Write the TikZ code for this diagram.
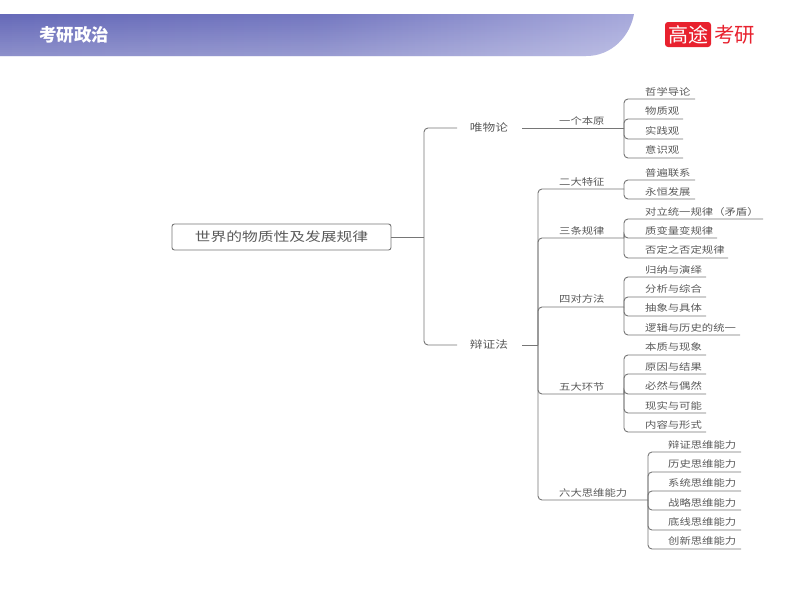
\documentclass[tikz,border=0pt]{standalone}
\usepackage{fontspec}
\newfontfamily\cjk[FakeStretch=1.22]{Noto Sans CJK SC}
\newfontfamily\cjkroot[FakeStretch=1.25]{Noto Sans CJK SC}
\newfontfamily\cjkhead{Noto Sans CJK SC}
\definecolor{conn}{HTML}{767676}
\definecolor{txt}{HTML}{5A5A5A}
\definecolor{logored}{HTML}{E8212E}
\definecolor{bandL}{HTML}{666AB9}
\definecolor{bandR}{HTML}{A6A8DB}
\tikzset{
  x=1pt,y=-1pt,
  connector/.style={draw=conn,line width=0.9pt,rounded corners=4pt},
  label/.style={font=\cjk\fontsize{9.3}{11}\selectfont,text=txt,inner sep=0pt},
  toplabel/.style={label,font=\cjk\fontsize{10.4}{12}\selectfont},
  leaflabel/.style={label,anchor=west},
  rootbox/.style={draw=conn,line width=0.9pt,rounded corners=2.5pt,minimum width=219pt,minimum height=26pt,inner sep=0pt,text=txt,font=\cjkroot\fontsize{12.6}{14}\selectfont},
}
% #1 name, #2 hub, #3 text x, #4 text y, #5 line y, #6 line end x, #7 text
\newcommand{\leafitem}[7]{%
  \node[leaflabel] (#1) at (#3,#4) {#7};
  \coordinate (#1end) at (#6,#5);
  \draw[connector] (#2) |- (#1end);
}
\begin{document}
\begin{tikzpicture}
\useasboundingbox (0,0) rectangle (800,600);
\fill[white] (0,0) rectangle (800,600);
% header band
\begin{scope}
  \clip (0,14) -- (634,14) .. controls (630,36) and (612,56) .. (586,56) -- (0,56) -- cycle;
  \shade[left color=bandL,right color=bandR,middle color=bandL!78!bandR] (0,14) rectangle (634,56);
  \foreach \i in {0,...,20} {
    \fill[white,opacity=0.0125*\i] (0,14+2*\i) rectangle (634,16+2*\i);
  }
\end{scope}
\node[font=\cjkhead\bfseries\fontsize{17.5}{19}\selectfont,text=white,inner sep=0pt] (head) at (74,35) {考研政治};
% logo
\node[fill=logored,rounded corners=3pt,minimum width=46pt,minimum height=25pt,inner sep=0pt,
  text=white,font=\cjkhead\fontsize{20}{22}\selectfont] (logoa) at (688,34.5) {高途};
\node[text=logored,inner sep=0pt,font=\cjkhead\fontsize{20.5}{22}\selectfont,anchor=west] (logob) at (714,34.5) {考研};
% root
\node[rootbox] (root) at (281.5,237) {世界的物质性及发展规律};
% level 1
\coordinate (hubA) at (424,237);
\node[toplabel] (wei) at (489,128) {唯物论};
\node[toplabel] (bian) at (489,344.5) {辩证法};
\draw[connector] (root.east) -- (hubA);
\draw[connector] (hubA) |- (457,128);
\draw[connector] (hubA) |- (457,345);
% level 2
\coordinate (hubB) at (538,345);
\draw[connector] (522,345) -- (hubB);
\node[leaflabel] (yi) at (559,120.5) {一个本原};
\node[leaflabel] (er) at (559,181.5) {二大特征};
\node[leaflabel] (san) at (559,230.5) {三条规律};
\node[leaflabel] (si) at (559,298.5) {四对方法};
\node[leaflabel] (wu) at (559,386.5) {五大环节};
\node[leaflabel] (liu) at (559,493) {六大思维能力};
\coordinate (hubYi) at (624,128);
\coordinate (hubEr) at (624,189);
\coordinate (hubSan) at (624,238);
\coordinate (hubSi) at (624,307);
\coordinate (hubWu) at (624,394);
\coordinate (hubLiu) at (648,500);
\draw[connector] (522,128) -- (hubYi);
\draw[connector] (hubB) |- (hubEr);
\draw[connector] (hubB) |- (hubSan);
\draw[connector] (hubB) |- (hubSi);
\draw[connector] (hubB) |- (hubWu);
\draw[connector] (hubB) |- (hubLiu);
% leaves
\leafitem{a1}{hubYi}{645}{91.5}{99}{695}{哲学导论}
\leafitem{a2}{hubYi}{645}{111}{119}{683}{物质观}
\leafitem{a3}{hubYi}{645}{130.5}{139}{683}{实践观}
\leafitem{a4}{hubYi}{645}{150}{158}{683}{意识观}
\leafitem{b1}{hubEr}{645}{172.5}{180}{695}{普遍联系}
\leafitem{b2}{hubEr}{645}{192}{199}{695}{永恒发展}
\leafitem{c1}{hubSan}{645}{211.5}{219}{763}{对立统一规律（矛盾）}
\leafitem{c2}{hubSan}{645}{231}{238}{717}{质变量变规律}
\leafitem{c3}{hubSan}{645}{250}{258}{728}{否定之否定规律}
\leafitem{d1}{hubSi}{645}{269.5}{277}{706}{归纳与演绎}
\leafitem{d2}{hubSi}{645}{289}{297}{706}{分析与综合}
\leafitem{d3}{hubSi}{645}{308}{316}{706}{抽象与具体}
\leafitem{d4}{hubSi}{645}{327.5}{335}{740}{逻辑与历史的统一}
\leafitem{e1}{hubWu}{645}{347}{355}{706}{本质与现象}
\leafitem{e2}{hubWu}{645}{366.5}{374}{706}{原因与结果}
\leafitem{e3}{hubWu}{645}{386}{394}{706}{必然与偶然}
\leafitem{e4}{hubWu}{645}{405.5}{413}{706}{现实与可能}
\leafitem{e5}{hubWu}{645}{425}{432}{706}{内容与形式}
\leafitem{f1}{hubLiu}{668}{444.5}{452}{741}{辩证思维能力}
\leafitem{f2}{hubLiu}{668}{464}{472}{741}{历史思维能力}
\leafitem{f3}{hubLiu}{668}{483}{491}{741}{系统思维能力}
\leafitem{f4}{hubLiu}{668}{502.5}{510}{741}{战略思维能力}
\leafitem{f5}{hubLiu}{668}{522}{530}{741}{底线思维能力}
\leafitem{f6}{hubLiu}{668}{541}{549}{741}{创新思维能力}
\end{tikzpicture}
\end{document}
